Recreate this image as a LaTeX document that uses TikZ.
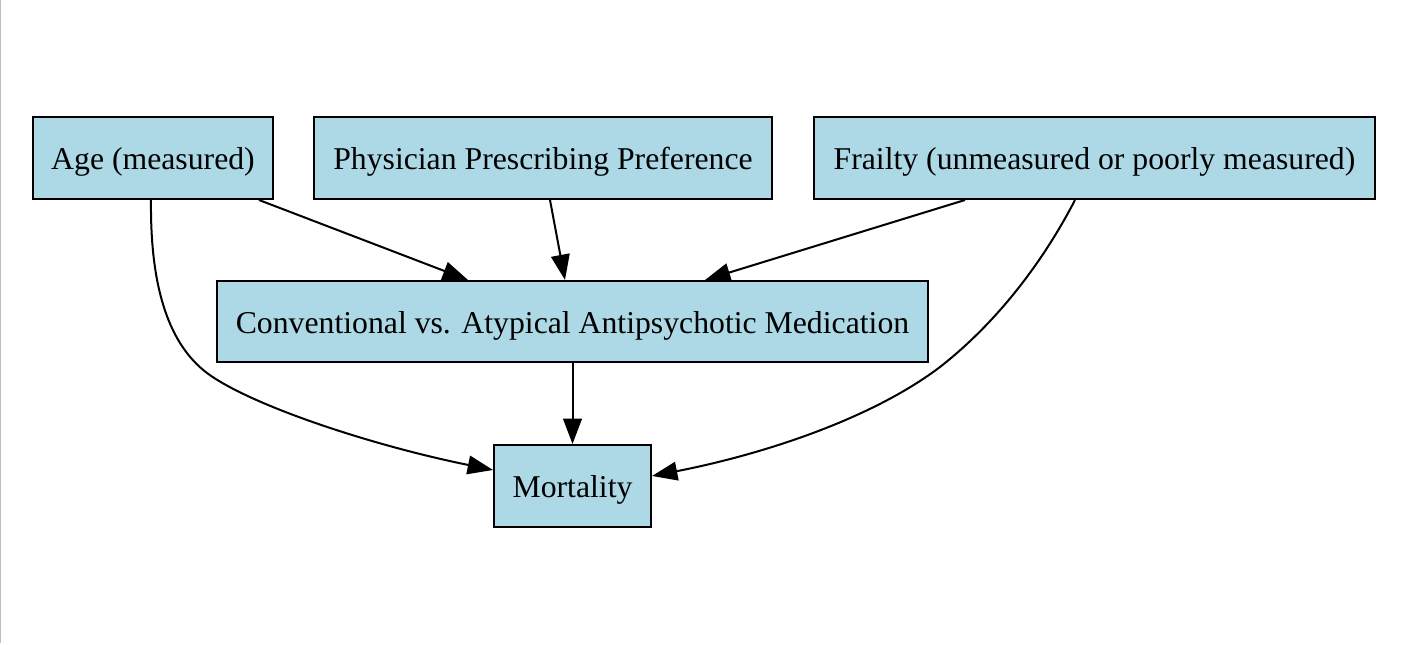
\documentclass[tikz,border=0pt]{standalone}
\usepackage{fontspec}
\setmainfont{Liberation Serif}
\usetikzlibrary{arrows.meta,calc}
\definecolor{nodefill}{HTML}{ADD8E6}
\begin{document}
\begin{tikzpicture}[x=0.75pt,y=-0.75pt,
  box/.style={draw=black,fill=nodefill,line width=1.5pt,inner sep=0pt,
    text height=18pt,text depth=0pt,
    minimum height=61.5pt,font=\fontsize{23.8pt}{28pt}\selectfont},
  edge/.style={line width=1.5pt,-{Triangle[length=19pt,width=14pt]}}]
\useasboundingbox (0,0) rectangle (1404,645);
\fill[white] (0,0) rectangle (1404,645);
\draw[color=black!25,line width=1pt] (0.5,0) -- (0.5,643);
\node[box,minimum width=180pt] (age) at (153,158) {Age (measured)};
\node[box,minimum width=343.5pt] (phys) at (543,158) {Physician Prescribing Preference};
\node[box,minimum width=420.75pt] (frail) at (1094.5,158) {Frailty (unmeasured or poorly measured)};
\node[box,minimum width=533.25pt,minimum height=60.75pt] (conv) at (572.5,321.5) {Conventional vs. Atypical Antipsychotic Medication};
\node[box,minimum width=117.75pt] (mort) at (572.5,486) {Mortality};
\coordinate (abend) at (207,373);
\coordinate (fbend) at (940,367);
\draw[edge] ($(age.south)+(106,0)$) -- ($(conv.north)+(-104.5,0)$);
\draw[edge] ($(phys.south)+(7,0)$) -- ($(conv.north)+(-7.5,0)$);
\draw[edge] ($(frail.south)+(-129.5,0)$) -- ($(conv.north)+(132.5,0)$);
\draw[edge] (conv.south) -- (mort.north);
\draw[edge] ($(age.south)+(-2,0)$) .. controls (150,290) and (170,345) .. (abend)
  .. controls (250,405) and (370,445) .. ($(mort.west)+(0,-16)$);
\draw[edge] ($(frail.south)+(-19.5,0)$) .. controls (1045,258) and (1000,320) .. (fbend)
  .. controls (870,420) and (760,455) .. ($(mort.east)+(0,-10)$);
\end{tikzpicture}
\end{document}
